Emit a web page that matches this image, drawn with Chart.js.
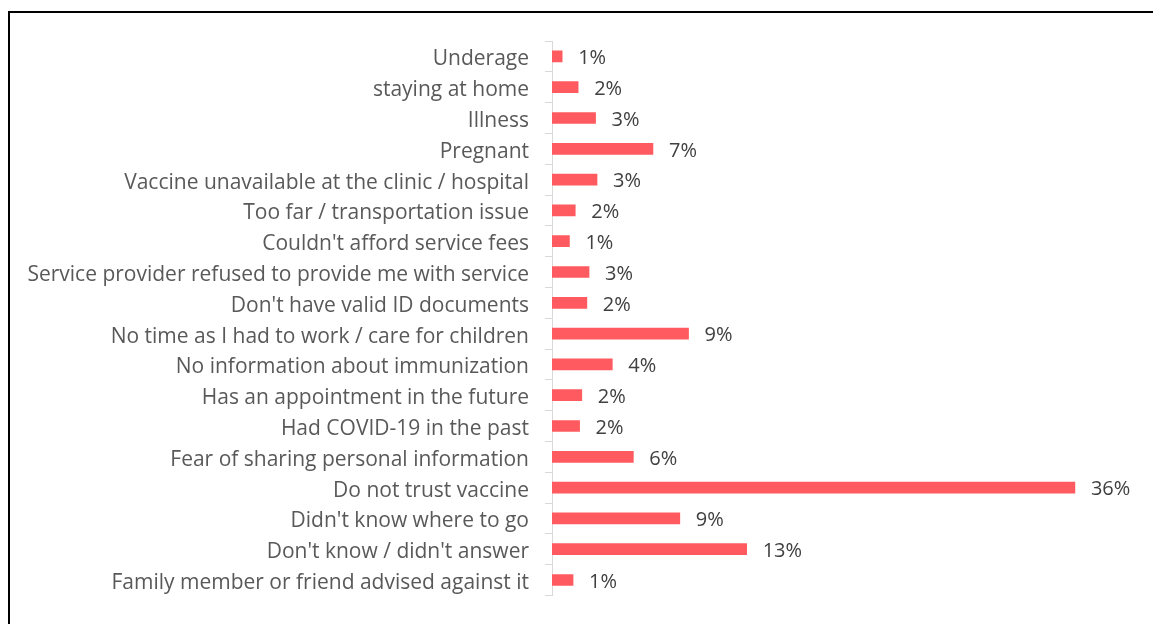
<!DOCTYPE html>
<html>
<head>
<meta charset="utf-8">
<script src="https://cdn.jsdelivr.net/npm/chart.js@4"></script>
<style>
  html, body { margin: 0; padding: 0; background: #fff; overflow: hidden; }
  #wrap { position: relative; width: 1153px; height: 624px; }
  #frame { position: absolute; left: 8px; top: 11px; width: 1200px; height: 700px;
           border-left: 2px solid #000; border-top: 2px solid #000; }
  canvas { position: absolute; left: 0; top: 0; }
</style>
</head>
<body>
<div id="wrap">
  <div id="frame"></div>
  <canvas id="barChart" width="1153" height="624"></canvas>
</div>
<script>
const reasons = [
  "Underage",
  "staying at home",
  "Illness",
  "Pregnant",
  "Vaccine unavailable at the clinic / hospital",
  "Too far / transportation issue",
  "Couldn't afford service fees",
  "Service provider refused to provide me with service",
  "Don't have valid ID documents",
  "No time as I had to work / care for children",
  "No information about immunization",
  "Has an appointment in the future",
  "Had COVID-19 in the past",
  "Fear of sharing personal information",
  "Do not trust vaccine",
  "Didn't know where to go",
  "Don't know / didn't answer",
  "Family member or friend advised against it",
];
const shares = [0.7, 1.8, 3.0, 6.95, 3.1, 1.6, 1.2, 2.55, 2.4, 9.4, 4.15, 2.05, 1.9, 5.6, 36, 8.8, 13.4, 1.45];
const shareLabels = ["1%", "2%", "3%", "7%", "3%", "2%", "1%", "3%", "2%", "9%", "4%", "2%", "2%", "6%", "36%", "9%", "13%", "1%"];

const FONT = "'Open Sans', sans-serif";

// draw the % text next to each bar
const valueLabels = {
  id: "valueLabels",
  beforeDraw(chart) {
    // nudge the category labels down a bit, Open Sans sits high on 'middle'
    const items = chart.scales.y.getLabelItems();
    if (!items._nudged) {
      items.forEach((it) => { it.textOffset += 3; });
      items._nudged = true;
    }
  },
  afterDatasetsDraw(chart) {
    const ctx = chart.ctx;
    const meta = chart.getDatasetMeta(0);
    ctx.save();
    ctx.font = "20px " + FONT;
    ctx.fillStyle = "#404040";
    ctx.textAlign = "left";
    ctx.textBaseline = "middle";
    meta.data.forEach((bar, i) => {
      ctx.fillText(shareLabels[i], bar.x + 16, bar.y + 2);
    });
    ctx.restore();
  },
};

new Chart(document.getElementById("barChart"), {
  type: "bar",
  data: {
    labels: reasons,
    datasets: [
      {
        data: shares,
        backgroundColor: "#FF5A5F",
        barThickness: 11,
      },
    ],
  },
  options: {
    indexAxis: "y",
    responsive: false,
    animation: false,
    layout: { padding: { top: 41, bottom: 26, right: 20, left: 0 } },
    plugins: { legend: { display: false }, tooltip: { enabled: false } },
    scales: {
      x: { display: false, min: 0, max: 40 },
      y: {
        afterFit: (scale) => { scale.width = 552; },
        grid: {
          drawOnChartArea: false,
          drawTicks: true,
          tickLength: 7,
          color: "#D9D9D9",
        },
        border: { color: "#D9D9D9", width: 1 },
        ticks: {
          color: "#595959",
          padding: 16,
          font: { family: FONT, size: 21 },
        },
      },
    },
  },
  plugins: [valueLabels],
});
</script>
</body>
</html>
